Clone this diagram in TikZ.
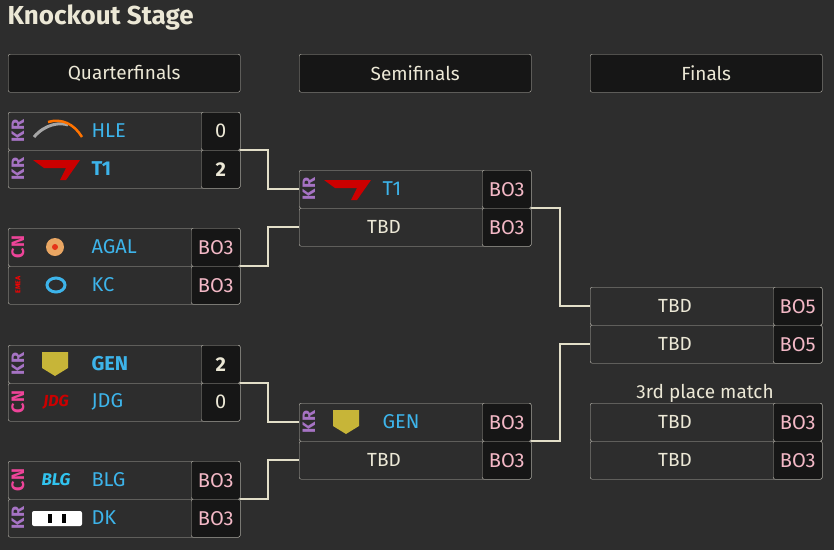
\documentclass[tikz,border=0pt]{standalone}
\usepackage{fontspec}
\setmainfont{Fira Sans}
\usetikzlibrary{positioning}
\definecolor{bg}{HTML}{2D2D2D}
\definecolor{cellbg}{HTML}{161616}
\definecolor{edge}{HTML}{BDBAB0}
\definecolor{wire}{HTML}{E2DEC8}
\definecolor{teamblue}{HTML}{3DB4EA}
\definecolor{bopink}{HTML}{F3B8C6}
\definecolor{krpurple}{HTML}{A673C4}
\definecolor{cnpink}{HTML}{EE4499}
\definecolor{cream}{HTML}{ECE8D6}
\tikzset{
  row/.style={draw=edge,fill=bg,rounded corners=2pt,minimum width=232pt,minimum height=38pt,anchor=north west,inner sep=0pt},
  cell/.style={draw=edge,fill=cellbg,rounded corners=2pt,minimum height=38pt,anchor=north east,inner sep=0pt,font=\fontsize{20}{20}\selectfont},
  head/.style={row,fill=cellbg,text=cream,font=\fontsize{19}{19}\selectfont},
  region/.style={rotate=90,font=\bfseries\fontsize{18}{18}\selectfont},
  tname/.style={anchor=west,text=teamblue,font=\fontsize{20}{20}\selectfont},
  tbd/.style={text=cream,font=\fontsize{19}{19}\selectfont},
  wire/.style={draw=wire,line width=2pt}
}
% \slot{name}{x}{y}{cell width}{cell text}{cell colour}
\newcommand{\slot}[6]{%
  \node[row] (#1) at (#2,#3) {};
  \node[cell,minimum width=#4pt,text=#6] (#1c) at (#1.north east) {#5};
}
\begin{document}
\begin{tikzpicture}[x=1pt,y=-1pt]
\useasboundingbox[fill=bg] (0,0) rectangle (834,550);

\node[anchor=west,text=cream,font=\bfseries\fontsize{26}{26}\selectfont] (title) at (4,18) {Knockout Stage};
\node[head] (hqf) at (8,54) {Quarterfinals};
\node[head] (hsf) at (299,54) {Semifinals};
\node[head] (hfi) at (590,54) {Finals};

% quarterfinals
\slot{qa1}{8}{112}{39}{0}{cream}
\slot{qa2}{8}{150}{39}{\bfseries 2}{cream}
\slot{qb1}{8}{228}{49}{BO3}{bopink}
\slot{qb2}{8}{266}{49}{BO3}{bopink}
\slot{qc1}{8}{345}{39}{\bfseries 2}{cream}
\slot{qc2}{8}{383}{39}{0}{cream}
\slot{qd1}{8}{461}{49}{BO3}{bopink}
\slot{qd2}{8}{499}{49}{BO3}{bopink}

% semifinals
\slot{sa1}{299}{170}{49}{BO3}{bopink}
\slot{sa2}{299}{208}{49}{BO3}{bopink}
\slot{sb1}{299}{403}{49}{BO3}{bopink}
\slot{sb2}{299}{441}{49}{BO3}{bopink}

% finals
\slot{fa1}{590}{287}{49}{BO5}{bopink}
\slot{fa2}{590}{325}{49}{BO5}{bopink}
\slot{fb1}{590}{403}{49}{BO3}{bopink}
\slot{fb2}{590}{441}{49}{BO3}{bopink}
\node[tbd] (third) at (705,393) {3rd place match};

% region tags
\foreach \x/\y in {18/131,18/169,18/364,18/518,309/189,309/422}
  \node[region,text=krpurple] at (\x,\y) {KR};
\foreach \y in {247,402,480}
  \node[region,text=cnpink] at (18,\y) {CN};
\node[rotate=90,text=red,font=\bfseries\fontsize{7}{7}\selectfont] at (18,285) {EMEA};

% logos
\draw[gray!70,line width=3pt] (34,137) .. controls (45,124) and (60,122) .. (68,125);
\draw[orange!90!red,line width=2.5pt] (48,122) .. controls (62,118) and (74,124) .. (82,137);
\foreach \xo/\yo in {0/0,291/20}
  \fill[red!80!black] (33+\xo,160+\yo) -- (80+\xo,160+\yo) -- (66+\xo,180+\yo) -- (60+\xo,180+\yo) -- (66+\xo,168+\yo) -- (44+\xo,168+\yo) -- cycle;
\fill[brown!50!orange!70!white] (55,247) circle (9pt);
\fill[red!60!brown] (55,247) circle (3pt);
\draw[teamblue,line width=3pt] (56,285) ellipse (9pt and 7pt);
\foreach \xo/\yo in {0/0,291/58}
  \fill[brown!40!yellow!70!gray] (42+\xo,352+\yo) -- (68+\xo,352+\yo) -- (68+\xo,368+\yo) -- (55+\xo,376+\yo) -- (42+\xo,368+\yo) -- cycle;
\node[text=red!80!black,font=\bfseries\itshape\fontsize{16}{16}\selectfont] at (56,402) {JDG};
\node[text=teamblue!80!cyan,font=\bfseries\itshape\fontsize{17}{17}\selectfont] at (56,480) {BLG};
\fill[white,rounded corners=2pt] (32,511) rectangle (82,526);
\fill[black] (48,514) rectangle (52,523);
\fill[black] (62,514) rectangle (66,523);

% team names
\node[tname] (hle) at (88,131) {HLE};
\node[tname] (t1) at (88,169) {\bfseries T1};
\node[tname] (agal) at (88,247) {AGAL};
\node[tname] (kc) at (88,285) {KC};
\node[tname] (gen) at (88,364) {\bfseries GEN};
\node[tname] (jdg) at (88,402) {JDG};
\node[tname] (blg) at (88,480) {BLG};
\node[tname] (dk) at (88,518) {DK};
\node[tname] (sft1) at (379,189) {T1};
\node[tname] (sfgen) at (379,422) {GEN};
\foreach \s/\x/\y in {sa2/384/227,sb2/384/460,fa1/675/306,fa2/675/344,fb1/675/422,fb2/675/460}
  \node[tbd] (\s t) at (\x,\y) {TBD};

% connectors
\draw[wire] (qa2.north east) -- ++(28,0) |- (sa1.west);
\draw[wire] (qb2.north east) -- ++(28,0) |- (sa2.west);
\draw[wire] (qc2.north east) -- ++(28,0) |- (sb1.west);
\draw[wire] (qd2.north east) -- ++(28,0) |- (sb2.west);
\draw[wire] (sa2.north east) -- ++(29,0) |- (fa1.west);
\draw[wire] (sb2.north east) -- ++(29,0) |- (fa2.west);
\end{tikzpicture}
\end{document}
